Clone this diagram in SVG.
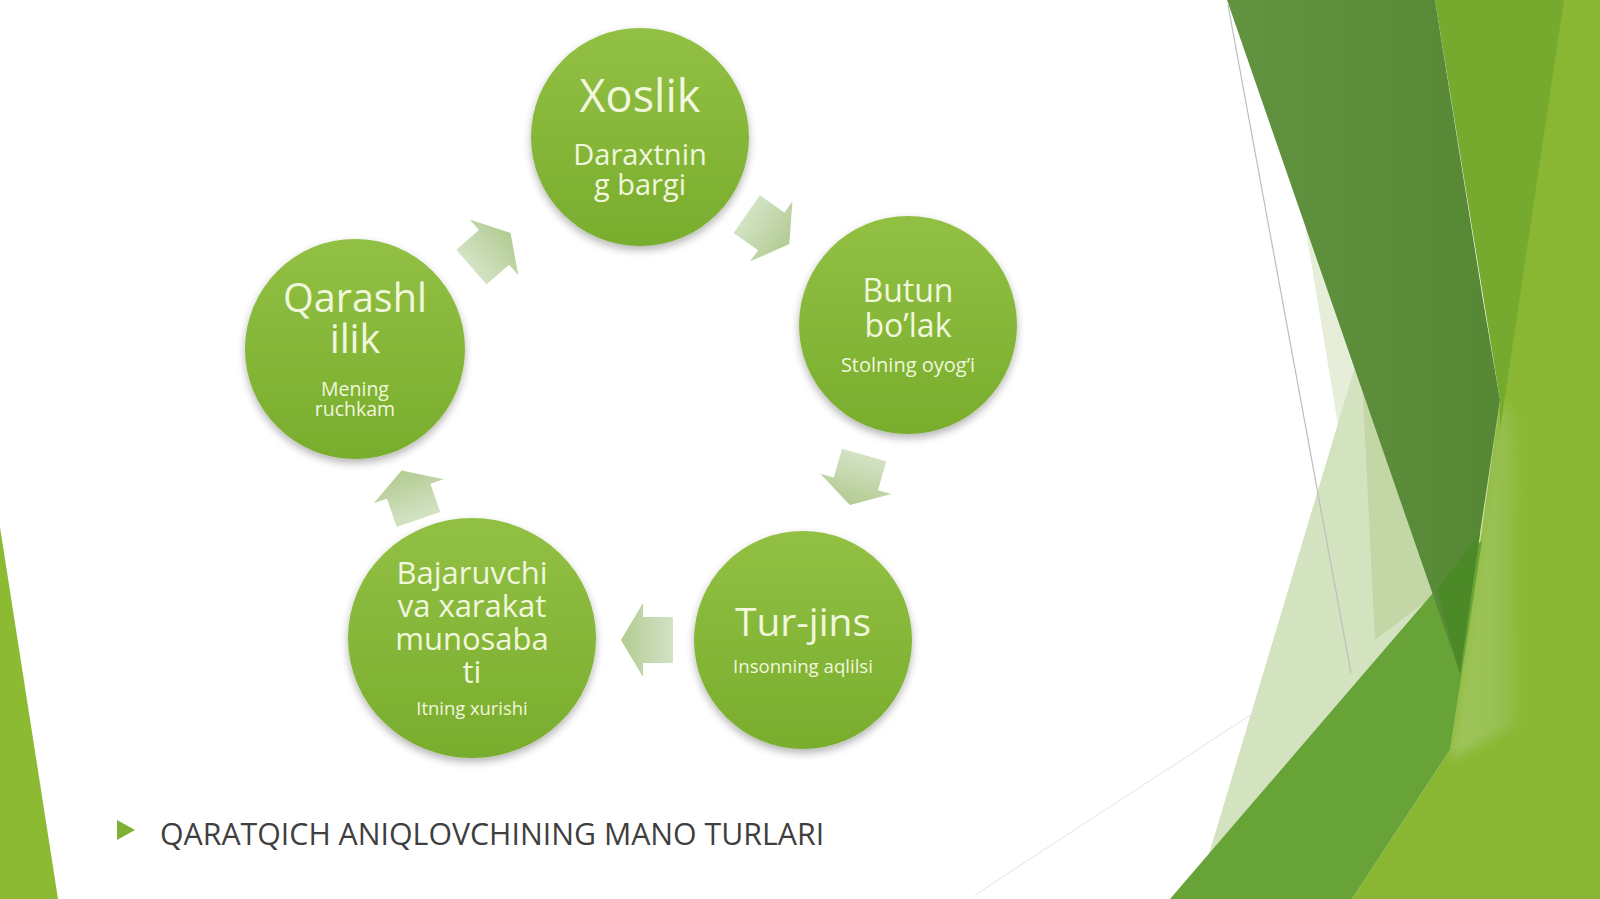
<svg xmlns="http://www.w3.org/2000/svg" width="1600" height="899" viewBox="0 0 1600 899">
<defs>
<style>
.t{font-family:"Open Sans","Noto Sans","DejaVu Sans",sans-serif;fill:#f1f7dd;text-anchor:middle}
.node{fill:url(#cg);filter:url(#sh)}
.arr{fill:url(#ag)}
.title{font-family:"Open Sans","Noto Sans","DejaVu Sans",sans-serif;fill:#3f3f3f;font-size:30.3px}
</style>
<linearGradient id="cg" x1="0" y1="0" x2="0" y2="1">
<stop offset="0" stop-color="#92c044"/>
<stop offset="1" stop-color="#79ad2d"/>
</linearGradient>
<linearGradient id="ag" x1="0" y1="0" x2="1" y2="0">
<stop offset="0" stop-color="#d3e3c4"/>
<stop offset="1" stop-color="#b2cb92"/>
</linearGradient>
<linearGradient id="dg" x1="0" y1="0" x2="1" y2="0">
<stop offset="0" stop-color="#619340"/>
<stop offset="1" stop-color="#568735"/>
</linearGradient>
<linearGradient id="lg" x1="0" y1="0" x2="1" y2="0">
<stop offset="0" stop-color="#a0c65e"/>
<stop offset="0.6" stop-color="#98c052"/>
<stop offset="1" stop-color="#8ab733" stop-opacity="0"/>
</linearGradient>
<filter id="soft" x="-20%" y="-20%" width="140%" height="140%">
<feGaussianBlur stdDeviation="6"/>
</filter>
<filter id="sh" x="-20%" y="-20%" width="140%" height="150%">
<feGaussianBlur in="SourceAlpha" stdDeviation="4"/>
<feOffset dy="4" result="b"/>
<feComponentTransfer><feFuncA type="linear" slope="0.3"/></feComponentTransfer>
<feMerge><feMergeNode/><feMergeNode in="SourceGraphic"/></feMerge>
</filter>
</defs>
<rect width="1600" height="899" fill="#ffffff"/>
<g id="background">
<polygon points="1305,225 1360,360 1338,425" fill="#e6eed9"/>
<polygon points="1357,360 1209,854 1437,593 1400,480" fill="#d3e2bf"/>
<polygon points="1362,375 1375,640 1437,593 1400,480" fill="#c2d6a6"/>
<polygon points="1500,400 1562,0 1600,0 1600,899 1352,899 1450,750 1463,667" fill="#8ab733"/>
<polygon points="1500,400 1522,420 1535,560 1525,720 1450,760 1463,667 1480,533" fill="url(#lg)" filter="url(#soft)"/>
<polygon points="1435,0 1564,0 1500,430 1500,400" fill="#76aa2e"/>
<polygon points="1433,593 1482,540 1463,667 1450,750 1352,899 1170,899" fill="#67a336"/>
<polygon points="1227,0 1435,0 1483,300 1500,400 1480,533 1460,673" fill="url(#dg)"/>
<polygon points="1437,590 1480,533 1460,673" fill="#4b8a27"/>
<line x1="1228" y1="5" x2="1351" y2="673" stroke="#bdbdbd" stroke-width="1.2"/>
<line x1="975" y1="895" x2="1255" y2="712" stroke="#e4e4e4" stroke-width="1"/>
<polygon points="0,527 58,899 0,899" fill="#8cba33"/>
</g>
<g id="connectors">
<path class="arr" d="M-26,-23 L4,-23 L4,-37 L26,0 L4,37 L4,23 L-26,23 Z" transform="translate(491,250) rotate(-41)"/>
<path class="arr" d="M-26,-23 L4,-23 L4,-37 L26,0 L4,37 L4,23 L-26,23 Z" transform="translate(768,229) rotate(35)"/>
<path class="arr" d="M-26,-23 L4,-23 L4,-37 L26,0 L4,37 L4,23 L-26,23 Z" transform="translate(857,480) rotate(106)"/>
<path class="arr" d="M-26,-23 L4,-23 L4,-37 L26,0 L4,37 L4,23 L-26,23 Z" transform="translate(647,640) rotate(180)"/>
<path class="arr" d="M-26,-23 L4,-23 L4,-37 L26,0 L4,37 L4,23 L-26,23 Z" transform="translate(410,495) rotate(-109)"/>
</g>
<g id="node-xoslik">
<circle class="node" cx="640" cy="137" r="109"/>
<text class="t" x="640" y="112" font-size="45">Xoslik</text>
<text class="t" x="640" y="165" font-size="29">Daraxtnin</text>
<text class="t" x="640" y="195" font-size="29">g bargi</text>
</g>
<g id="node-butun">
<circle class="node" cx="908" cy="325" r="109"/>
<text class="t" x="908" y="302" font-size="32">Butun</text>
<text class="t" x="908" y="337" font-size="32">bo’lak</text>
<text class="t" x="908" y="372" font-size="20">Stolning oyog’i</text>
</g>
<g id="node-turjins">
<circle class="node" cx="803" cy="640" r="109"/>
<text class="t" x="803" y="636" font-size="39">Tur-jins</text>
<text class="t" x="803" y="673" font-size="18.6">Insonning aqlilsi</text>
</g>
<g id="node-bajaruvchi">
<ellipse class="node" cx="472" cy="638" rx="124" ry="120"/>
<text class="t" x="472" y="584" font-size="31">Bajaruvchi</text>
<text class="t" x="472" y="617" font-size="31">va xarakat</text>
<text class="t" x="472" y="650" font-size="31">munosaba</text>
<text class="t" x="472" y="683" font-size="31">ti</text>
<text class="t" x="472" y="715" font-size="18.4">Itning xurishi</text>
</g>
<g id="node-qarashlilik">
<circle class="node" cx="355" cy="349" r="110"/>
<text class="t" x="355" y="312" font-size="39.5">Qarashl</text>
<text class="t" x="355" y="353" font-size="39.5">ilik</text>
<text class="t" x="355" y="396" font-size="19.5">Mening</text>
<text class="t" x="355" y="416" font-size="19.5">ruchkam</text>
</g>
<g id="title">
<polygon points="117,820 135,830 117,840" fill="#7fb234"/>
<text class="title" x="160" y="845">QARATQICH ANIQLOVCHINING MANO TURLARI</text>
</g>
</svg>
